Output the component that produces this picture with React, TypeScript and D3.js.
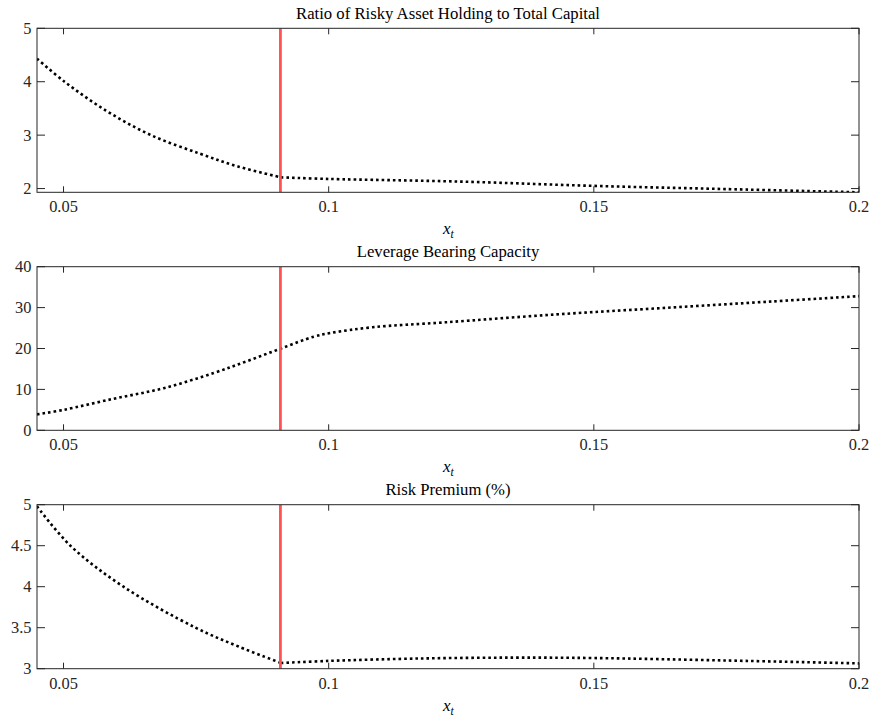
import React from "react";
import { scaleLinear, line, curveCatmullRom } from "d3";

// x grid (state variable x_t) and the three series
const ratioX = [0.045, 0.0502, 0.058, 0.0665, 0.0758, 0.083, 0.091, 0.1, 0.125, 0.15, 0.175, 0.2];
const ratioY = [4.43, 4.0, 3.46, 3.0, 2.65, 2.41, 2.21, 2.18, 2.13, 2.05, 1.99, 1.93];

const levX = [0.045, 0.05, 0.0594, 0.0689, 0.0783, 0.0846, 0.091, 0.0972, 0.1004, 0.1083, 0.122, 0.1425, 0.163, 0.1836, 0.2];
const levY = [3.9, 5.0, 7.7, 10.3, 14.0, 16.9, 20.0, 22.9, 23.8, 25.2, 26.4, 28.3, 29.9, 31.5, 32.8];

const premX = [0.045, 0.0513, 0.0613, 0.0749, 0.083, 0.091, 0.1, 0.1176, 0.135, 0.15, 0.175, 0.2];
const premY = [4.98, 4.5, 4.0, 3.5, 3.27, 3.07, 3.095, 3.125, 3.135, 3.13, 3.1, 3.065];

const threshold = 0.0909;
const xTicks = [0.05, 0.1, 0.15, 0.2];
const xTickLabels = ["0.05", "0.1", "0.15", "0.2"];

const panels = [
  {
    title: "Ratio of Risky Asset Holding to Total Capital",
    xs: ratioX, ys: ratioY, domain: [1.93, 5], kink: true,
    ticks: [2, 3, 4, 5], tickLabels: ["2", "3", "4", "5"],
    top: 28.3, bottom: 192.3,
  },
  {
    title: "Leverage Bearing Capacity",
    xs: levX, ys: levY, domain: [0, 40], kink: false,
    ticks: [0, 10, 20, 30, 40], tickLabels: ["0", "10", "20", "30", "40"],
    top: 266.7, bottom: 430.3,
  },
  {
    title: "Risk Premium (%)",
    xs: premX, ys: premY, domain: [3, 5], kink: true,
    ticks: [3, 3.5, 4, 4.5, 5], tickLabels: ["3", "3.5", "4", "4.5", "5"],
    top: 504.7, bottom: 668.7,
  },
];

const left = 37;
const right = 859;
const font = "'Liberation Serif', 'Times New Roman', serif";
const axisColor = "#262626";

function Panel({ p, i }: { p: any; i: number }) {
  const x = scaleLinear().domain([0.045, 0.2]).range([left, right]);
  const y = scaleLinear().domain(p.domain).range([p.bottom, p.top]);
  const pts: number[][] = p.xs.map((d: number, k: number) => [d, p.ys[k]]);
  const gen = line<number[]>()
    .x((d) => x(d[0]))
    .y((d) => y(d[1]))
    .curve(curveCatmullRom.alpha(0.5));
  // the curve has a kink at the threshold, so draw the two sides separately
  const segs = p.kink
    ? [pts.filter((d) => d[0] <= 0.091), pts.filter((d) => d[0] >= 0.091)]
    : [pts];
  const path = segs.map((s) => gen(s) || "").join("");
  const cx = (left + right) / 2;
  const clipId = "clip" + i;
  return (
    <g>
      <defs>
        <clipPath id={clipId}>
          <rect x={left} y={p.top} width={right - left} height={p.bottom - p.top} />
        </clipPath>
      </defs>
      <text x={cx} y={p.top - 9.5} textAnchor="middle" fontSize={16.7} fontFamily={font} fill="#000">
        {p.title}
      </text>
      <g clipPath={`url(#${clipId})`}>
        <path d={path} fill="none" stroke="#000" strokeWidth={2.6} strokeDasharray="2.6 3" />
        <line x1={x(threshold)} x2={x(threshold)} y1={p.top} y2={p.bottom} stroke="#ff5252" strokeWidth={2.8} />
      </g>
      <rect x={left} y={p.top} width={right - left} height={p.bottom - p.top} fill="none" stroke={axisColor} strokeWidth={1} />
      {xTicks.map((t, k) => (
        <g key={"x" + k}>
          <line x1={x(t)} x2={x(t)} y1={p.bottom} y2={p.bottom - 6} stroke={axisColor} strokeWidth={1} />
          <line x1={x(t)} x2={x(t)} y1={p.top} y2={p.top + 6} stroke={axisColor} strokeWidth={1} />
          <text x={x(t)} y={p.bottom + 20} textAnchor="middle" fontSize={16.4} fontFamily={font} fill="#262626">
            {xTickLabels[k]}
          </text>
        </g>
      ))}
      {p.ticks.map((t: number, k: number) => (
        <g key={"y" + k}>
          <line x1={left} x2={left + 8} y1={y(t)} y2={y(t)} stroke={axisColor} strokeWidth={1} />
          <line x1={right} x2={right - 8} y1={y(t)} y2={y(t)} stroke={axisColor} strokeWidth={1} />
          <text x={31.5} y={y(t)} dy="0.34em" textAnchor="end" fontSize={16.4} fontFamily={font} fill="#262626">
            {p.tickLabels[k]}
          </text>
        </g>
      ))}
      <text x={cx - 5} y={p.bottom + 42} fontSize={17} fontFamily={font} fontStyle="italic" fill="#000">
        x
        <tspan dy={4} fontSize={11.5}>t</tspan>
      </text>
    </g>
  );
}

export default function App() {
  return (
    <svg
      width={871}
      height={717}
      style={{ position: "absolute", left: 0, top: 0, background: "#fff" }}
    >
      <rect x={0} y={0} width={871} height={717} fill="#fff" />
      {panels.map((p, i) => (
        <Panel key={i} p={p} i={i} />
      ))}
    </svg>
  );
}
